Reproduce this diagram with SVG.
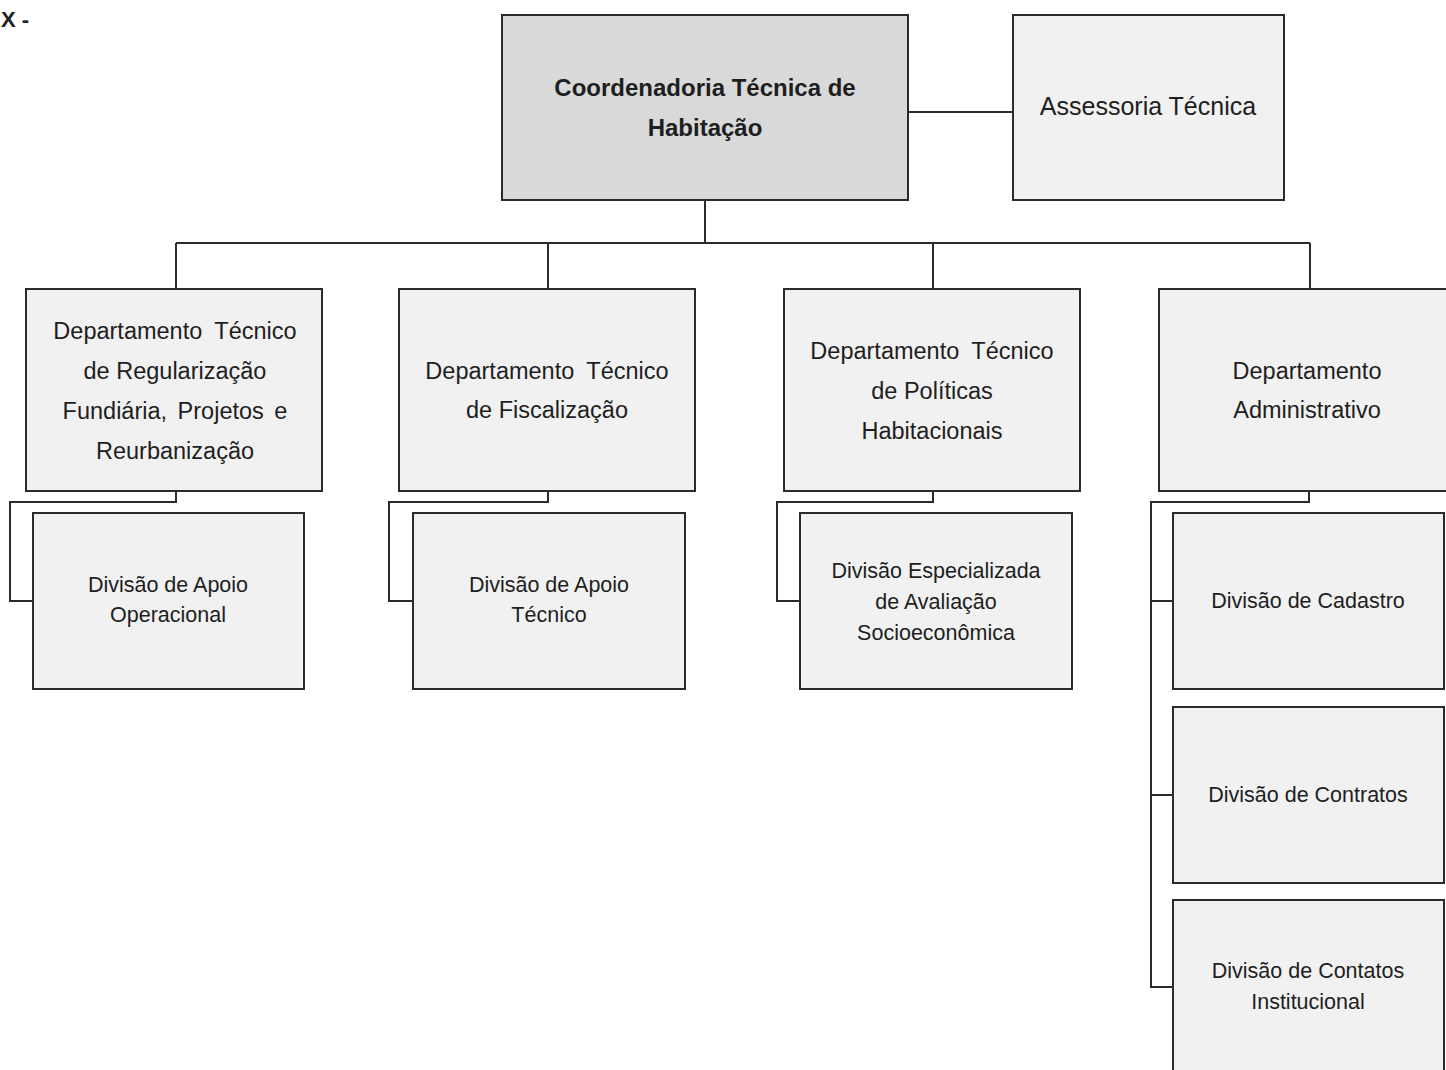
<svg xmlns="http://www.w3.org/2000/svg" width="1446" height="1070" viewBox="0 0 1446 1070">
<style>
.box{stroke:#2b2b2b;stroke-width:2;fill:#f1f1f1}
.top{fill:#d9d9d9}
.c{stroke:#2b2b2b;stroke-width:2;fill:none}
text{font-family:"Liberation Sans",Arial,sans-serif;fill:#1e1e1e;text-anchor:middle}
.b{font-weight:bold;font-size:24px}
.d{font-size:23.5px}
.a{font-size:25px}
.s{font-size:21.5px}
.w{word-spacing:6px}
</style>
<rect width="1446" height="1070" fill="#ffffff"/>
<text x="1" y="27" style="font-weight:bold;font-size:22px;text-anchor:start">X -</text>
<g id="connectors">
<path class="c" d="M908 112H1013"/>
<path class="c" d="M705 200V243M176 243H1310M176 243V289M548 243V289M933 243V289M1310 243V289"/>
<path class="c" d="M176 491V502H10V601H33"/>
<path class="c" d="M548 491V502H389V601H413"/>
<path class="c" d="M933 491V502H777V601H800"/>
<path class="c" d="M1309 491V502H1151V987H1173M1151 601H1173M1151 795H1173"/>
</g>
<g id="coord"><rect class="box top" x="502" y="15" width="406" height="185"/>
<text class="b" x="705" y="96">Coordenadoria Técnica de</text><text class="b" x="705" y="136">Habitação</text></g>
<g id="assessoria"><rect class="box" x="1013" y="15" width="271" height="185"/>
<text class="a" x="1148" y="115">Assessoria Técnica</text></g>
<g id="dep1"><rect class="box" x="26" y="289" width="296" height="202"/>
<text class="d w" x="175" y="339">Departamento Técnico</text><text class="d" x="175" y="379">de Regularização</text><text class="d" x="175" y="419" style="word-spacing:4px">Fundiária, Projetos e</text><text class="d" x="175" y="459">Reurbanização</text></g>
<g id="dep2"><rect class="box" x="399" y="289" width="296" height="202"/>
<text class="d w" x="547" y="379">Departamento Técnico</text><text class="d" x="547" y="418">de Fiscalização</text></g>
<g id="dep3"><rect class="box" x="784" y="289" width="296" height="202"/>
<text class="d w" x="932" y="359">Departamento Técnico</text><text class="d" x="932" y="399">de Políticas</text><text class="d" x="932" y="439">Habitacionais</text></g>
<g id="dep4"><rect class="box" x="1159" y="289" width="290" height="202"/>
<text class="d" x="1307" y="379">Departamento</text><text class="d" x="1307" y="418">Administrativo</text></g>
<g id="div1"><rect class="box" x="33" y="513" width="271" height="176"/>
<text class="s" x="168" y="592">Divisão de Apoio</text><text class="s" x="168" y="622">Operacional</text></g>
<g id="div2"><rect class="box" x="413" y="513" width="272" height="176"/>
<text class="s" x="549" y="592">Divisão de Apoio</text><text class="s" x="549" y="622">Técnico</text></g>
<g id="div3"><rect class="box" x="800" y="513" width="272" height="176"/>
<text class="s" x="936" y="578">Divisão Especializada</text><text class="s" x="936" y="609">de Avaliação</text><text class="s" x="936" y="640">Socioeconômica</text></g>
<g id="div4"><rect class="box" x="1173" y="513" width="271" height="176"/>
<text class="s" x="1308" y="608">Divisão de Cadastro</text></g>
<g id="div5"><rect class="box" x="1173" y="707" width="271" height="176"/>
<text class="s" x="1308" y="802">Divisão de Contratos</text></g>
<g id="div6"><rect class="box" x="1173" y="900" width="271" height="180"/>
<text class="s" x="1308" y="978">Divisão de Contatos</text><text class="s" x="1308" y="1009">Institucional</text></g>
</svg>
